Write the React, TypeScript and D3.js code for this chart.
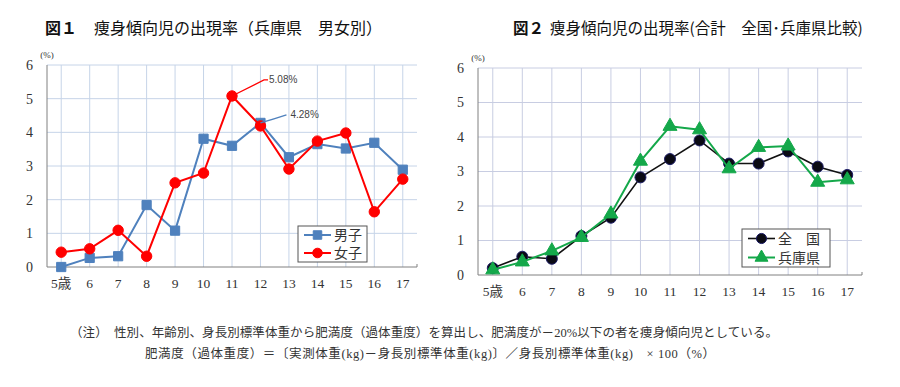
import { useEffect, useRef } from 'react'
import * as d3 from 'd3'

const ages = ['5歳', '6', '7', '8', '9', '10', '11', '12', '13', '14', '15', '16', '17']
const boys = [0.0, 0.27, 0.32, 1.84, 1.08, 3.81, 3.6, 4.28, 3.26, 3.65, 3.52, 3.69, 2.89]
const girls = [0.44, 0.54, 1.09, 0.32, 2.5, 2.79, 5.08, 4.19, 2.91, 3.74, 3.98, 1.64, 2.61]
const national = [0.2, 0.53, 0.47, 1.13, 1.66, 2.83, 3.36, 3.9, 3.23, 3.23, 3.58, 3.14, 2.9]
const hyogo = [0.15, 0.38, 0.7, 1.09, 1.77, 3.3, 4.31, 4.21, 3.08, 3.7, 3.74, 2.69, 2.76]
const yTicks = [0, 1, 2, 3, 4, 5, 6]

const serif = '"Liberation Serif", "Noto Sans CJK JP", serif'
const sans = '"Noto Sans CJK JP", sans-serif'

type Series = {
  name: string
  values: number[]
  color: string
  width: number
  symbol: d3.SymbolType
  size: number
  fill: string
  stroke: string
}

type ChartOpts = {
  left: number
  right: number
  top: number
  bottom: number
  grid: string
  series: Series[]
  legend: { x: number; y: number; w: number; h: number }
}

function drawChart(svg: d3.Selection<SVGSVGElement, unknown, null, undefined>, opt: ChartOpts) {
  const g = svg.append('g')
  const x = d3.scaleBand().domain(ages).range([opt.left, opt.right])
  const y = d3.scaleLinear().domain([0, 6]).range([opt.bottom, opt.top])
  const cx = (a: string) => (x(a) as number) + x.bandwidth() / 2

  // grid
  g.selectAll('line.h').data(yTicks.slice(1)).join('line')
    .attr('x1', opt.left).attr('x2', opt.right)
    .attr('y1', d => y(d)).attr('y2', d => y(d))
    .attr('stroke', opt.grid).attr('stroke-width', 1)
  g.selectAll('line.v').data(ages).join('line')
    .attr('x1', d => cx(d)).attr('x2', d => cx(d))
    .attr('y1', opt.top).attr('y2', opt.bottom)
    .attr('stroke', opt.grid).attr('stroke-width', 1)

  // axes
  g.append('line').attr('x1', opt.left).attr('x2', opt.left)
    .attr('y1', opt.top).attr('y2', opt.bottom).attr('stroke', '#808080')
  g.append('line').attr('x1', opt.left).attr('x2', opt.right)
    .attr('y1', opt.bottom).attr('y2', opt.bottom).attr('stroke', '#808080')
  g.append('line').attr('x1', opt.right).attr('x2', opt.right)
    .attr('y1', opt.bottom - 3).attr('y2', opt.bottom).attr('stroke', '#808080')

  g.selectAll('text.y').data(yTicks).join('text')
    .attr('x', opt.left - 14).attr('y', d => y(d)).attr('dy', '0.35em')
    .attr('text-anchor', 'end').attr('font-family', serif).attr('font-size', 14)
    .attr('fill', '#333').text(d => d)
  g.selectAll('text.x').data(ages).join('text')
    .attr('x', d => cx(d)).attr('y', opt.bottom + 16).attr('dy', '0.35em')
    .attr('text-anchor', 'middle').attr('font-family', serif).attr('font-size', 13.5)
    .attr('fill', '#333').text(d => d)
  g.append('text').attr('x', opt.left).attr('y', opt.top - 7)
    .attr('text-anchor', 'middle').attr('font-family', serif).attr('font-size', 9)
    .attr('fill', '#333').text('(%)')

  const line = d3.line<number>().x((d, i) => cx(ages[i])).y(d => y(d))
  opt.series.forEach(s => {
    g.append('path').attr('d', line(s.values)).attr('fill', 'none')
      .attr('stroke', s.color).attr('stroke-width', s.width)
    g.selectAll(null).data(s.values).join('path')
      .attr('transform', (d, i) => `translate(${cx(ages[i])},${y(d)})`)
      .attr('d', d3.symbol(s.symbol, s.size)())
      .attr('fill', s.fill).attr('stroke', s.stroke).attr('stroke-width', 1)
  })

  // legend
  const L = opt.legend
  g.append('rect').attr('x', L.x).attr('y', L.y).attr('width', L.w).attr('height', L.h)
    .attr('fill', 'white').attr('stroke', '#555').attr('stroke-width', 1)
  opt.series.forEach((s, i) => {
    const ly = L.y + L.h * (i * 2 + 1) / 4
    g.append('line').attr('x1', L.x + 6).attr('x2', L.x + 33).attr('y1', ly).attr('y2', ly)
      .attr('stroke', s.color).attr('stroke-width', s.width)
    g.append('path').attr('transform', `translate(${L.x + 19.5},${ly})`)
      .attr('d', d3.symbol(s.symbol, s.size * 0.85)())
      .attr('fill', s.fill).attr('stroke', s.stroke)
    g.append('text').attr('x', L.x + 36).attr('y', ly).attr('dy', '0.36em')
      .attr('font-family', serif).attr('font-size', 14).attr('fill', '#333').text(s.name)
  })
  return { x: cx, y }
}

function App() {
  const ref = useRef<SVGSVGElement>(null)

  useEffect(() => {
    const svg = d3.select(ref.current as SVGSVGElement)
    svg.selectAll('*').remove()

    // titles
    const t1 = svg.append('text').attr('x', 45).attr('y', 34)
      .attr('font-family', sans).attr('font-size', 16).attr('fill', '#111')
    t1.append('tspan').attr('font-weight', 'bold').text('図１')
    t1.append('tspan').attr('dx', 17).text('痩身傾向児の出現率（兵庫県　男女別）')
    const t2 = svg.append('text').attr('x', 513).attr('y', 34)
      .attr('font-family', sans).attr('font-size', 15.5).attr('fill', '#111')
    t2.append('tspan').attr('font-weight', 'bold').text('図２')
    t2.append('tspan').attr('dx', 6).text('痩身傾向児の出現率(合計　全国･兵庫県比較)')

    const blue = '#4f81bd'
    const red = '#ff0000'
    const s1 = drawChart(svg, {
      left: 47, right: 417, top: 65, bottom: 267, grid: '#c6d4e8',
      series: [
        { name: '男子', values: boys, color: blue, width: 2, symbol: d3.symbolSquare, size: 85, fill: blue, stroke: blue },
        { name: '女子', values: girls, color: red, width: 2, symbol: d3.symbolCircle, size: 85, fill: red, stroke: red },
      ],
      legend: { x: 298, y: 226, w: 69, h: 36 },
    })

    // callouts
    const p11 = [s1.x('11'), s1.y(girls[6])]
    svg.append('path')
      .attr('d', `M${p11[0]},${p11[1]} L${p11[0] + 32},${p11[1] - 16} L${p11[0] + 36},${p11[1] - 16}`)
      .attr('fill', 'none').attr('stroke', red).attr('stroke-width', 1.3)
    svg.append('text').attr('x', p11[0] + 37).attr('y', p11[1] - 16).attr('dy', '0.35em')
      .attr('font-family', '"Liberation Sans", sans-serif').attr('font-size', 10)
      .attr('fill', '#444').text('5.08%')
    const p12 = [s1.x('12'), s1.y(boys[7])]
    svg.append('path')
      .attr('d', `M${p12[0]},${p12[1]} Q${p12[0] + 14},${p12[1] - 4} ${p12[0] + 26},${p12[1] - 8}`)
      .attr('fill', 'none').attr('stroke', blue).attr('stroke-width', 1.3)
    svg.append('text').attr('x', p12[0] + 30).attr('y', p12[1] - 8).attr('dy', '0.35em')
      .attr('font-family', '"Liberation Sans", sans-serif').attr('font-size', 10)
      .attr('fill', '#444').text('4.28%')

    drawChart(svg, {
      left: 478, right: 862, top: 68, bottom: 275, grid: '#c8cde2',
      series: [
        { name: '全　国', values: national, color: '#111', width: 1.6, symbol: d3.symbolCircle, size: 95, fill: '#0a0a14', stroke: '#1c1c66' },
        { name: '兵庫県', values: hyogo, color: '#14a84a', width: 2, symbol: d3.symbolTriangle, size: 85, fill: '#14a84a', stroke: '#14a84a' },
      ],
      legend: { x: 742, y: 229, w: 88, h: 38 },
    })

    // notes
    svg.append('text').attr('x', 70).attr('y', 337)
      .attr('font-family', serif).attr('font-size', 12.5).attr('fill', '#333')
      .attr('textLength', 708).attr('lengthAdjust', 'spacing')
      .text('（注）　性別、年齢別、身長別標準体重から肥満度（過体重度）を算出し、肥満度が－20%以下の者を痩身傾向児としている。')
    svg.append('text').attr('x', 145).attr('y', 358)
      .attr('font-family', serif).attr('font-size', 12.5).attr('fill', '#333')
      .attr('textLength', 570).attr('lengthAdjust', 'spacing')
      .text('肥満度（過体重度）＝〔実測体重(kg)－身長別標準体重(kg)〕／身長別標準体重(kg)　× 100（%）')
  }, [])

  return (
    <svg ref={ref} width={900} height={387}
      style={{ position: 'absolute', left: 0, top: 0, background: 'white' }} />
  )
}

export default App
